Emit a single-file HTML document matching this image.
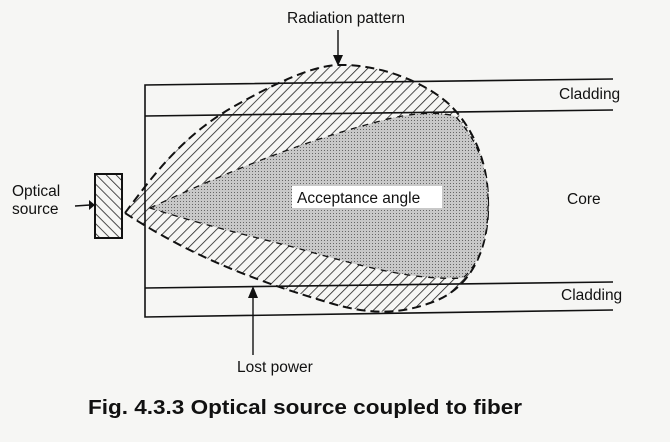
<!DOCTYPE html>
<html><head><style>
body{margin:0;background:#f6f6f4;}
svg{display:block;}
text{font-family:"Liberation Sans",sans-serif;fill:#111;}
</style></head><body>
<svg width="670" height="442" viewBox="0 0 670 442" xmlns="http://www.w3.org/2000/svg">
<defs>
<pattern id="h" width="7" height="7" patternUnits="userSpaceOnUse" patternTransform="rotate(45)">
<rect width="7" height="7" fill="#f6f6f4"/><line x1="0" y1="0" x2="0" y2="7" stroke="#222" stroke-width="1.6"/></pattern>
<pattern id="h2" width="7" height="7" patternUnits="userSpaceOnUse" patternTransform="rotate(-45)">
<rect width="7" height="7" fill="#f6f6f4"/><line x1="0" y1="0" x2="0" y2="7" stroke="#222" stroke-width="1.6"/></pattern>
<pattern id="d" width="3" height="3" patternUnits="userSpaceOnUse">
<rect width="3" height="3" fill="#c8c8c8"/><rect width="1" height="1" fill="#666"/></pattern>
</defs>
<!-- lobe -->
<path d="M125,213 C150,180 180,137 233,107 C270,86 310,66 338,65 C380,64 425,82 450,105 C475,130 488,165 488,200 C490,250 470,290 430,303 C400,314 370,315 330,303 C270,285 200,262 125,213 Z" fill="url(#h)" stroke="#111" stroke-width="2" stroke-dasharray="9,5"/>
<!-- acceptance cone -->
<path d="M150,208 C210,180 290,145 373,123 C400,115 430,110 455,116 C478,140 488,170 488,200 C489,240 478,265 463,278 C420,280 380,272 293,247 C250,236 200,224 150,208 Z" fill="url(#d)" stroke="#111" stroke-width="1.3" stroke-dasharray="6,6"/>
<!-- fiber lines -->
<g stroke="#111" stroke-width="1.6" fill="none">
<polyline points="613,79 145,85 145,317 613,310"/>
<line x1="145" y1="116" x2="613" y2="110"/>
<line x1="145" y1="288" x2="613" y2="282"/>
</g>
<!-- source -->
<rect x="95" y="174" width="27" height="64" fill="url(#h2)" stroke="#111" stroke-width="2"/>
<!-- arrows -->
<g stroke="#111" stroke-width="1.4">
<line x1="338" y1="30" x2="338" y2="58"/>
<line x1="253" y1="355" x2="253" y2="296"/>
<line x1="75" y1="206" x2="90" y2="205"/>
</g>
<polygon points="333,55 343,55 338,66" fill="#111"/>
<polygon points="248,298 258,298 253,286" fill="#111"/>
<polygon points="89,200 95,205 89,210" fill="#111"/>
<rect x="292" y="186" width="150" height="22" fill="#fff"/>
<text x="297" y="203" font-size="15.5">Acceptance angle</text>
<text x="287" y="23" font-size="15.5">Radiation pattern</text>
<text x="559" y="99" font-size="15.5">Cladding</text>
<text x="567" y="204" font-size="15.5">Core</text>
<text x="561" y="300" font-size="15.5">Cladding</text>
<text x="12" y="196" font-size="15.5">Optical</text>
<text x="12" y="214" font-size="15.5">source</text>
<text x="237" y="372" font-size="15.5">Lost power</text>
<text x="88" y="414" font-size="20" font-weight="bold" textLength="434" lengthAdjust="spacingAndGlyphs">Fig. 4.3.3 Optical source coupled to fiber</text>
</svg>
</body></html>
